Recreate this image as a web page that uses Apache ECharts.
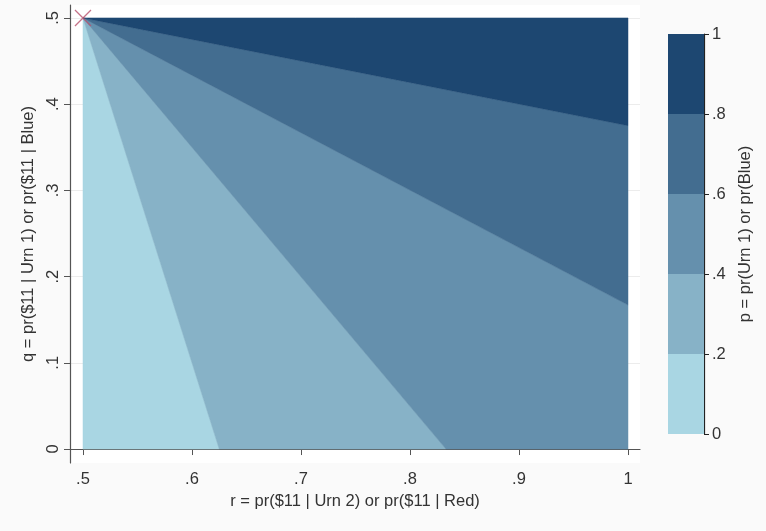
<!DOCTYPE html>
<html>
<head>
<meta charset="utf-8">
<script src="https://cdn.jsdelivr.net/npm/echarts@6/dist/echarts.min.js"></script>
<style>
html,body{margin:0;padding:0;background:#fafafa;}
#c{width:766px;height:531px;}
</style>
</head>
<body>
<div id="c"></div>
<script>
// ---- data ----
const xTicks = [0.5, 0.6, 0.7, 0.8, 0.9, 1];
const yTicks = [0, 0.1, 0.2, 0.3, 0.4, 0.5];
const levels = [0, 0.2, 0.4, 0.6, 0.8, 1];
// contour region polygons (r, q) for p bands 0-.2, .2-.4, .4-.6, .6-.8, .8-1
const band1 = [[0.5, 0.5], [0.5, 0], [0.625, 0]];
const band2 = [[0.5, 0.5], [0.625, 0], [0.833, 0]];
const band3 = [[0.5, 0.5], [0.833, 0], [1, 0], [1, 0.167]];
const band4 = [[0.5, 0.5], [1, 0.167], [1, 0.375]];
const band5 = [[0.5, 0.5], [1, 0.375], [1, 0.5]];
const marker = [[0.5, 0.5]];

const bands = [band1, band2, band3, band4, band5];
const bandColors = ['#a9d6e3', '#87b2c7', '#6590ad', '#436d90', '#1d4771'];

const fmt = v => { const s = String(+(+v).toFixed(2)); return s.replace(/^0\./, '.').replace(/^-0\./, '-.'); };
const FONT = 'Liberation Sans, Arial, sans-serif';
const txt = '#333';
const axc = '#555';

const chart = echarts.init(document.getElementById('c'), null, {renderer: 'canvas'});
chart.setOption({
  animation: false,
  backgroundColor: '#fafafa',
  grid: [
    {left: 70, right: 126, top: 5, bottom: 68, show: true, backgroundColor: '#ffffff', borderWidth: 0},
    {left: 668, width: 36, top: 34, height: 400}
  ],
  xAxis: [
    {
      gridIndex: 0, type: 'value', min: 0.4881, max: 1.011,
      name: 'r = pr($11 | Urn 2) or pr($11 | Red)', nameLocation: 'middle', nameGap: 24,
      nameTextStyle: {fontFamily: FONT, fontSize: 16.5, color: txt},
      axisLine: {show: true, lineStyle: {color: axc, width: 1.2}},
      axisTick: {show: true, length: 6, lineStyle: {color: axc}, customValues: xTicks},
      axisLabel: {fontFamily: FONT, fontSize: 16.5, color: txt, margin: 8, formatter: fmt, customValues: xTicks},
      splitLine: {show: false}
    },
    {gridIndex: 1, type: 'category', data: ['p'], show: false}
  ],
  yAxis: [
    {
      gridIndex: 0, type: 'value', min: -0.0162, max: 0.515,
      name: 'q = pr($11 | Urn 1) or pr($11 | Blue)', nameLocation: 'middle', nameGap: 30, nameRotate: 90,
      nameTextStyle: {fontFamily: FONT, fontSize: 16.5, color: txt},
      axisLine: {show: true, lineStyle: {color: axc, width: 1.2}},
      axisTick: {show: true, length: 6, lineStyle: {color: axc}, customValues: yTicks},
      axisLabel: {fontFamily: FONT, fontSize: 16.5, color: txt, margin: 8, rotate: 90, formatter: fmt, customValues: yTicks, verticalAlign: 'bottom', align: 'center'},
      splitLine: {show: true, lineStyle: {color: '#ececec', width: 1}}
    },
    {
      gridIndex: 1, type: 'value', position: 'right', min: 0, max: 1, interval: 0.2,
      name: 'p = pr(Urn 1) or pr(Blue)', nameLocation: 'middle', nameGap: 33, nameRotate: 90,
      nameTextStyle: {fontFamily: FONT, fontSize: 16.5, color: txt},
      axisLine: {show: true, lineStyle: {color: '#222', width: 1.2}},
      axisTick: {show: true, length: 5, inside: false, lineStyle: {color: '#222'}},
      axisLabel: {fontFamily: FONT, fontSize: 16.5, color: txt, margin: 8, formatter: fmt},
      splitLine: {show: false}
    }
  ],
  series: [
    {
      type: 'custom', xAxisIndex: 0, yAxisIndex: 0,
      data: bands.map((b, i) => [b[0][0], b[0][1], i]),
      renderItem: function (params, api) {
        const poly = bands[params.dataIndex].map(p => api.coord(p));
        return {
          type: 'polygon',
          shape: {points: poly},
          style: {fill: bandColors[params.dataIndex], stroke: bandColors[params.dataIndex], lineWidth: 0.5}
        };
      },
      silent: true, z: 2
    },
    {
      type: 'scatter', xAxisIndex: 0, yAxisIndex: 0,
      data: marker,
      symbol: 'path://M0,0L10,10M10,0L0,10',
      symbolSize: 16,
      itemStyle: {color: 'none', borderColor: '#b8506c', borderWidth: 1.3},
      silent: true, z: 5
    }
  ].concat(bandColors.map((c, i) => ({
    type: 'bar', xAxisIndex: 1, yAxisIndex: 1, stack: 'cb',
    barWidth: '100%',
    data: [+(levels[i + 1] - levels[i]).toFixed(2)],
    itemStyle: {color: c},
    silent: true
  })))
});
</script>
</body>
</html>
